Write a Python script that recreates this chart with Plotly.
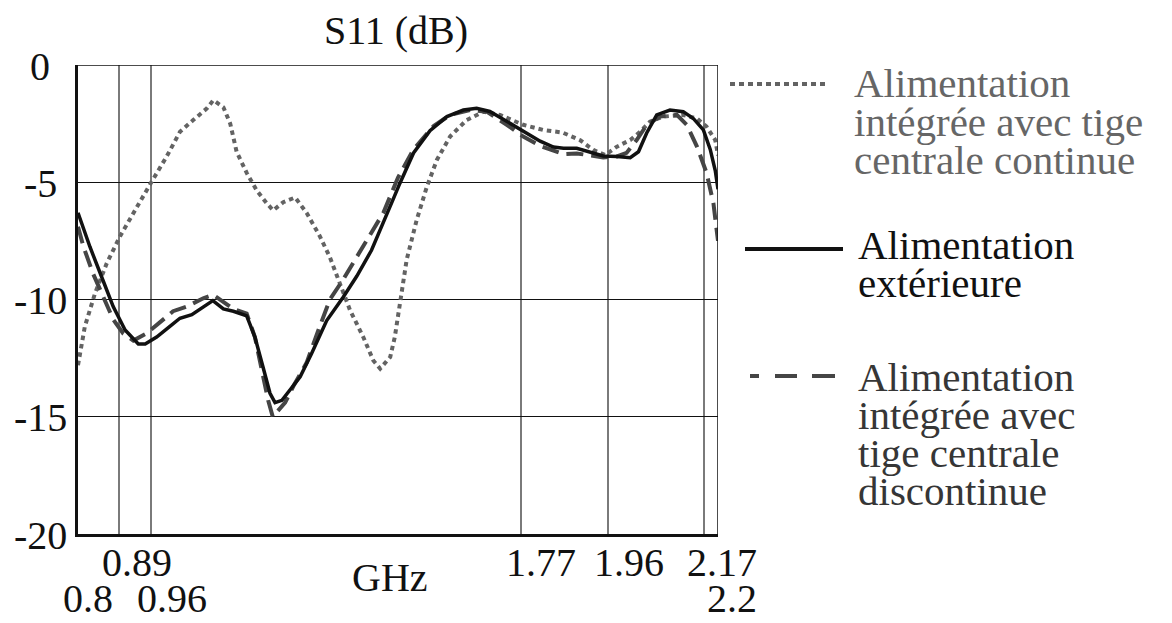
import plotly.graph_objects as go

# S11 (dB) vs frequency (GHz)
freq_ext = [0.800, 0.826, 0.855, 0.877, 0.903, 0.932, 0.947, 0.972, 1.001, 1.023, 1.049, 1.074,
            1.095, 1.118, 1.140, 1.169, 1.187, 1.205, 1.220, 1.231, 1.246, 1.264, 1.286, 1.311,
            1.344, 1.380, 1.410, 1.442, 1.468, 1.490, 1.504, 1.534, 1.570, 1.607, 1.643, 1.672,
            1.701, 1.738, 1.774, 1.811, 1.840, 1.862, 1.891, 1.920, 1.949, 1.979, 2.008, 2.026,
            2.044, 2.066, 2.095, 2.124, 2.146, 2.168, 2.183, 2.194, 2.200]
s11_ext = [-6.3, -7.75, -9.2, -10.3, -11.3, -11.9, -11.9, -11.6, -11.15, -10.8, -10.65, -10.3,
           -10.05, -10.4, -10.5, -10.7, -11.6, -12.9, -14.0, -14.4, -14.3, -13.85, -13.3, -12.3,
           -10.9, -9.9, -9.0, -7.9, -6.75, -5.7, -5.05, -3.75, -2.8, -2.2, -1.92, -1.85,
           -1.98, -2.4, -2.85, -3.25, -3.5, -3.55, -3.55, -3.7, -3.88, -3.9, -3.95, -3.7,
           -2.9, -2.13, -1.92, -1.99, -2.28, -2.77, -3.6, -4.5, -5.3]

freq_cont = [0.800, 0.815, 0.837, 0.863, 0.892, 0.928, 0.961, 0.994, 1.023, 1.052, 1.082, 1.096,
             1.118, 1.133, 1.147, 1.169, 1.191, 1.213, 1.227, 1.249, 1.275, 1.300, 1.329, 1.351,
             1.373, 1.395, 1.424, 1.446, 1.461, 1.483, 1.493, 1.504, 1.519, 1.541, 1.563, 1.585,
             1.614, 1.650, 1.687, 1.723, 1.774, 1.818, 1.860, 1.898, 1.927, 1.953, 1.979, 2.008,
             2.030, 2.051, 2.080, 2.124, 2.154, 2.175, 2.194, 2.200]
s11_cont = [-12.8, -11.15, -9.75, -8.45, -7.3, -6.05, -4.98, -3.9, -2.85, -2.35, -1.85, -1.5,
            -1.8, -2.5, -3.7, -4.6, -5.35, -5.9, -6.2, -5.85, -5.65, -6.3, -7.3, -8.2,
            -9.3, -10.45, -11.6, -12.6, -12.95, -12.45, -11.6, -10.3, -8.3, -6.6, -5.2, -4.05,
            -3.05, -2.35, -1.99, -2.13, -2.55, -2.77, -2.88, -3.2, -3.62, -3.84, -3.48, -3.2,
            -2.84, -2.42, -2.2, -2.13, -2.28, -2.63, -3.2, -3.85]

freq_disc = [0.800, 0.812, 0.833, 0.855, 0.877, 0.899, 0.921, 0.950, 0.979, 1.008, 1.038, 1.074,
             1.096, 1.118, 1.140, 1.169, 1.187, 1.202, 1.216, 1.226, 1.253, 1.271, 1.300, 1.326,
             1.351, 1.380, 1.432, 1.468, 1.500, 1.534, 1.578, 1.614, 1.658, 1.694, 1.738, 1.774,
             1.811, 1.862, 1.891, 1.949, 1.979, 2.000, 2.022, 2.044, 2.073, 2.110, 2.132, 2.154,
             2.175, 2.190, 2.200]
s11_disc = [-6.9, -7.75, -8.9, -9.9, -10.85, -11.45, -11.75, -11.45, -11.0, -10.5, -10.3, -9.95,
            -9.8, -10.1, -10.4, -10.6, -11.6, -13.0, -14.3, -15.0, -14.4, -13.7, -12.7, -11.3,
            -10.0, -9.15, -7.5, -6.3, -4.8, -3.6, -2.6, -2.13, -1.92, -1.99, -2.55, -3.05,
            -3.45, -3.8, -3.77, -3.94, -3.9, -3.75, -3.2, -2.56, -2.2, -2.13, -2.56, -3.48,
            -4.6, -5.9, -7.5]

grid_freqs = [0.89, 0.96, 1.77, 1.96, 2.17]
grid_db = [-5, -10, -15]
y_ticks = [0, -5, -10, -15, -20]

# x tick labels on two rows (0 = upper, 1 = lower)
x_tick_vals = [0.89, 0.8, 0.96, 1.77, 1.96, 2.17, 2.2]
x_tick_text = ["0.89", "0.8", "0.96", "1.77", "1.96", "2.17", "2.2"]
x_tick_row = [0, 1, 1, 0, 0, 0, 1]
x_tick_shift = [18, 10, 21, 20, 21, 18, 14]

legend_names = [
    "Alimentation intégrée avec tige centrale continue",
    "Alimentation extérieure",
    "Alimentation intégrée avec tige centrale discontinue",
]
legend_lines = [
    ["Alimentation", "intégrée avec tige", "centrale continue"],
    ["Alimentation", "extérieure"],
    ["Alimentation", "intégrée avec", "tige centrale", "discontinue"],
]

W, H = 1172, 623
L, R, T, B = 78, 454, 65, 89
FONT = "Liberation Serif"

C_CONT, C_EXT, C_DISC = "#636363", "#111111", "#454545"
DOT = dict(color=C_CONT, width=4, dash="4.5px,4px")
SOLID = dict(color=C_EXT, width=3.5)
DASH = dict(color=C_DISC, width=4, dash="17px,8px")


def px_x(p):
    return (p - L) / (W - L - R)


def px_y(p):
    return (H - B - p) / (H - T - B)


fig = go.Figure()
fig.add_trace(go.Scatter(x=freq_cont, y=s11_cont, mode="lines", name=legend_names[0], line=DOT))
fig.add_trace(go.Scatter(x=freq_disc, y=s11_disc, mode="lines", name=legend_names[2], line=DASH))
fig.add_trace(go.Scatter(x=freq_ext, y=s11_ext, mode="lines", name=legend_names[1], line=SOLID))

shapes = [
    dict(type="line", xref="x", yref="y", x0=0.8, x1=2.2, y0=0, y1=0,
         line=dict(color="#111", width=1.5)),
    dict(type="line", xref="x", yref="y", x0=2.2, x1=2.2, y0=-20, y1=0,
         line=dict(color="#111", width=1.5)),
    # legend swatches
    dict(type="line", xref="paper", yref="paper", x0=px_x(730), x1=px_x(828),
         y0=px_y(84), y1=px_y(84), line=dict(color=C_CONT, width=4, dash="5px,4px")),
    dict(type="line", xref="paper", yref="paper", x0=px_x(745), x1=px_x(843),
         y0=px_y(249), y1=px_y(249), line=dict(color=C_EXT, width=4)),
    dict(type="line", xref="paper", yref="paper", x0=px_x(750), x1=px_x(835),
         y0=px_y(376), y1=px_y(376),
         line=dict(color=C_DISC, width=4, dash="9px,16px,22px,15px,23px,50px")),
]

tick_font = dict(family=FONT, size=40, color="#111")
annotations = []
for v in y_ticks:
    annotations.append(dict(x=px_x(40), xref="paper", y=v, yref="y", text=str(v),
                            showarrow=False, xanchor="center", yanchor="middle",
                            font=tick_font, yshift=-1))
for v, lab, row, sh in zip(x_tick_vals, x_tick_text, x_tick_row, x_tick_shift):
    if row == 0:
        pos = dict(y=px_y(562), yanchor="middle")
    else:
        pos = dict(y=px_y(H), yanchor="bottom")
    annotations.append(dict(x=v, xref="x", yref="paper", text=lab, showarrow=False,
                            xanchor="center", xshift=sh, font=tick_font, **pos))
annotations.append(dict(x=px_x(390), xref="paper", y=px_y(577), yref="paper", text="GHz",
                        showarrow=False, xanchor="center", yanchor="middle", font=tick_font))
annotations.append(dict(x=px_x(396), xref="paper", y=px_y(30), yref="paper", text="S11 (dB)",
                        showarrow=False, xanchor="center", yanchor="middle", font=tick_font))

legend_pos = [(852, [83, 122, 160], "#666666"), (856, [245, 283], "#111111"),
              (856, [377, 415, 453, 491], "#363636")]
for lines, (x0, ys, col) in zip(legend_lines, legend_pos):
    for line_txt, yy in zip(lines, ys):
        annotations.append(dict(x=px_x(x0), xref="paper", y=px_y(yy), yref="paper",
                                text=line_txt, showarrow=False, xanchor="left", yanchor="middle",
                                font=dict(family=FONT, size=41, color=col)))

fig.update_layout(
    width=W, height=H,
    margin=dict(l=L, r=R, t=T, b=B, pad=0),
    paper_bgcolor="white", plot_bgcolor="white",
    showlegend=False,
    shapes=shapes,
    annotations=annotations,
    xaxis=dict(range=[0.8, 2.2], tickvals=grid_freqs, showticklabels=False, ticks="",
               showgrid=True, gridcolor="#7a7a7a", gridwidth=1.5, zeroline=False,
               showline=True, linecolor="#111", linewidth=3),
    yaxis=dict(range=[-20, 0], tickvals=grid_db, showticklabels=False, ticks="",
               showgrid=True, gridcolor="#111", gridwidth=1.2, zeroline=False,
               showline=True, linecolor="#111", linewidth=3),
)

# the page body has a default 8px margin; drop it so the figure fills the window
fig.write_html("out.html", config={"displayModeBar": False},
               post_script="document.body.style.margin='0';")
